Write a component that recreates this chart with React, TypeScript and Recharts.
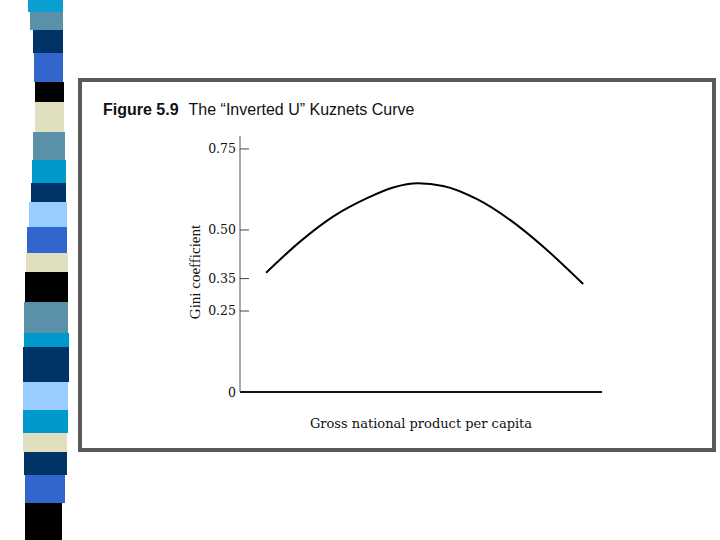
import React from 'react';
import { LineChart, Line, XAxis, YAxis } from 'recharts';

// GNP per capita (relative position along the axis, 0-100)
const gnpPositions = [7.2, 16.6, 25.7, 35.1, 42.3, 49.2, 56.1, 65.5, 74.6, 83.7, 94.8];
// Gini coefficient values
const giniValues = [0.368, 0.464, 0.541, 0.598, 0.631, 0.644, 0.636, 0.595, 0.531, 0.449, 0.333];
// Y-axis tick values and labels
const yTicks = [0, 0.25, 0.35, 0.5, 0.75];
const yTickLabels = ['0', '0.25', '0.35', '0.50', '0.75'];

const data = gnpPositions.map((x, i) => ({ x, gini: giniValues[i] }));

// decorative slide strip
const stripColors = [
  '#0a9fd0', '#5b91a8', '#003366', '#3366cc', '#000000', '#e0e0c0', '#5b91a8', '#0099cc',
  '#003366', '#99ccff', '#3366cc', '#e0e0c0', '#000000', '#5b91a8', '#0099cc', '#003366',
  '#99ccff', '#0099cc', '#e0e0c0', '#003366', '#3366cc', '#000000',
];
const stripBounds = [0, 12, 30, 53, 82, 102, 132, 160, 183, 202, 227, 253, 272, 302, 333, 347, 382, 410, 433, 452, 475, 503, 540];
const stripLeft = [28, 30, 33, 34, 35, 35, 33, 32, 31, 29, 27, 26, 25, 24, 24, 23, 23, 23, 23, 24, 25, 25];
const stripRight = [63, 63, 63, 63, 64, 64, 65, 66, 66, 67, 67, 68, 68, 68, 69, 69, 68, 68, 67, 67, 65, 62];

const YTick = (props: any) => {
  const { x, y, payload } = props;
  const idx = yTicks.indexOf(payload.value);
  const label = idx >= 0 ? yTickLabels[idx] : String(payload.value);
  return (
    <g>
      {payload.value !== 0 && <line x1={x} y1={y} x2={x + 9} y2={y} stroke="#444" strokeWidth={1} />}
      <text x={x - 4} y={y} textAnchor="end" dominantBaseline="central" fontFamily="DejaVu Serif" fontSize={12.5} fill="#111">
        {label}
      </text>
    </g>
  );
};

export default function App() {
  return (
    <div style={{ position: 'absolute', left: 0, top: 0, width: 720, height: 540, background: '#fff', overflow: 'hidden' }}>
      {stripColors.map((c, i) => (
        <div
          key={i}
          style={{
            position: 'absolute',
            left: stripLeft[i],
            width: stripRight[i] - stripLeft[i],
            top: stripBounds[i],
            height: stripBounds[i + 1] - stripBounds[i],
            background: c,
          }}
        />
      ))}
      <div
        style={{
          position: 'absolute',
          left: 78,
          top: 78,
          width: 638,
          height: 374,
          boxSizing: 'border-box',
          border: '4px solid #5a5a5a',
          background: '#fff',
        }}
      />
      <div
        style={{
          position: 'absolute',
          left: 103,
          top: 101,
          fontFamily: '"Liberation Sans", Arial, sans-serif',
          fontSize: 16,
          color: '#111',
          whiteSpace: 'nowrap',
          lineHeight: '18px',
        }}
      >
        <span style={{ fontWeight: 'bold' }}>Figure 5.9</span>
        <span style={{ marginLeft: 10 }}>The “Inverted U” Kuznets Curve</span>
      </div>
      <div style={{ position: 'absolute', left: 0, top: 0 }}>
        <LineChart width={720} height={540} data={data} margin={{ top: 136, right: 118, bottom: 118, left: 180 }}>
          <XAxis
            dataKey="x"
            type="number"
            domain={[0, 100]}
            tick={false}
            tickLine={false}
            height={30}
            axisLine={{ stroke: '#111', strokeWidth: 2 }}
            label={{
              content: (p: any) => {
                const vb = p.viewBox || {};
                return (
                  <text
                    x={vb.x + vb.width / 2}
                    y={vb.y + 31}
                    textAnchor="middle"
                    dominantBaseline="central"
                    fontFamily="DejaVu Serif"
                    fontSize={13}
                    fill="#111"
                  >
                    Gross national product per capita
                  </text>
                );
              },
            }}
          />
          <YAxis
            type="number"
            domain={[0, 0.79]}
            ticks={yTicks}
            interval={0}
            width={60}
            tickSize={0}
            tickMargin={0}
            tickLine={false}
            axisLine={{ stroke: '#555', strokeWidth: 1 }}
            tick={<YTick />}
            label={{
              content: (p: any) => {
                const vb = p.viewBox || {};
                const cx = vb.x + 15;
                const cy = vb.y + vb.height / 2 + 8;
                return (
                  <text
                    x={cx}
                    y={cy}
                    transform={`rotate(-90 ${cx} ${cy})`}
                    textAnchor="middle"
                    dominantBaseline="central"
                    fontFamily="Liberation Serif"
                    fontSize={15}
                    fill="#111"
                  >
                    Gini coefficient
                  </text>
                );
              },
            }}
          />
          <Line
            type="monotone"
            dataKey="gini"
            stroke="#000"
            strokeWidth={2}
            dot={false}
            isAnimationActive={false}
          />
        </LineChart>
      </div>
    </div>
  );
}
